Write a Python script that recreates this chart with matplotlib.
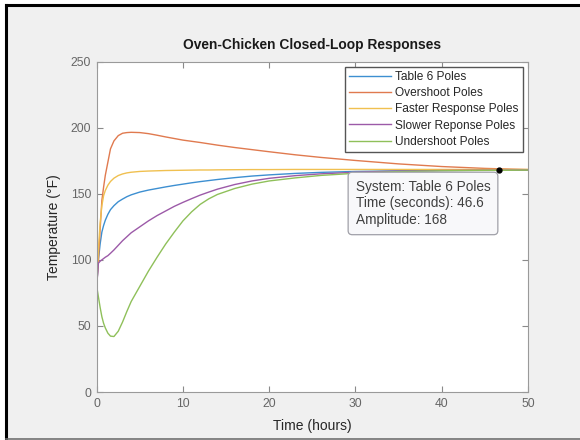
import numpy as np
import matplotlib
matplotlib.use("Agg")
import matplotlib.pyplot as plt
from matplotlib.lines import Line2D
from matplotlib.patches import Rectangle

plt.rcParams['font.family'] = ['Liberation Sans', 'DejaVu Sans']

# time (hours) and responses
t = [0, 0.2, 0.4, 0.6, 0.8, 1, 1.3, 1.6, 2, 2.5, 3, 3.5, 4, 5, 6, 7, 8, 9, 10,
     11, 12, 13, 14, 16, 18, 20, 23, 26, 30, 35, 40, 45, 50]

table6 = [80, 100, 112, 121, 126, 130, 134.5, 138, 141, 144, 146, 147.8, 149.2,
          151.3, 152.8, 154, 155.2, 156.3, 157.3, 158.3, 159.2, 160, 160.8, 162.2,
          163.4, 164.3, 165.4, 166.2, 166.9, 167.4, 167.7, 167.8, 167.9]
overshoot = [80, 100, 123, 145, 155, 164, 174, 184, 190, 194, 195.8, 196.3, 196.5,
             196.3, 195.5, 194.3, 193, 191.8, 190.6, 189.7, 188.8, 187.8, 186.8, 185,
             183.4, 181.8, 179.5, 177.5, 175.2, 172.6, 170.6, 169.2, 168.3]
faster = [80, 108, 128, 141, 148.5, 152.5, 156.5, 159.3, 161.8, 163.8, 165, 165.8,
          166.3, 166.9, 167.2, 167.4, 167.6, 167.7, 167.8, 167.9, 168, 168, 168.1,
          168.2, 168.3, 168.3, 168.4, 168.4, 168.4, 168.4, 168.4, 168.4, 168.4]
slower = [80, 97.5, 99, 100, 101, 102, 103.2, 105, 107.5, 111, 114.5, 117.5, 120.5,
          125, 129.5, 133.5, 137, 140.5, 143.5, 146.3, 149, 151.3, 153.5, 157,
          159.7, 161.7, 163.7, 165.1, 166.3, 167.2, 167.6, 167.8, 167.9]
undershoot = [80, 72, 64, 57, 52, 48.5, 44.5, 42.3, 42, 46, 53, 61, 68.5, 80, 91.5,
              102, 112, 121, 129.5, 136.3, 142, 146.2, 149.5, 154, 157.3, 159.7, 162,
              163.9, 165.5, 166.8, 167.4, 167.7, 167.9]

series_names = ["Table 6 Poles", "Overshoot Poles", "Faster Response Poles",
                "Slower Reponse Poles", "Undershoot Poles"]
series_colors = ["#3d8fd1", "#e07a4f", "#f0c050", "#9c5aa8", "#8fc05a"]

tip_t = 46.6
tip_v = 168

fig = plt.figure(figsize=(5.8, 4.4), dpi=100, facecolor="white")

# screenshot frame
fig.add_artist(Rectangle((0.0095, 0.0023), 0.9905, 0.9852, transform=fig.transFigure,
                         facecolor="#f0f0f0", edgecolor="none", zorder=-10))
fig.add_artist(Line2D([0.0095, 0.0095], [0, 0.9875], transform=fig.transFigure,
                      color="black", lw=2.2))
fig.add_artist(Line2D([0.0095, 1], [0.9875, 0.9875], transform=fig.transFigure,
                      color="black", lw=2.2))
fig.add_artist(Line2D([0.0095, 1], [0.003, 0.003], transform=fig.transFigure,
                      color="#707070", lw=1.2))

ax = fig.add_axes([0.1667, 0.109, 0.7437, 0.751])
ax.set_facecolor("white")

data = [table6, overshoot, faster, slower, undershoot]
for vals, name, col in zip(data, series_names, series_colors):
    ax.plot(t, vals, color=col, lw=1.0, label=name)

ax.plot([tip_t], [tip_v], 'o', color="black", ms=3.5, zorder=5)

ax.set_xlim(0, 50)
ax.set_ylim(0, 250)
ax.set_xticks(np.arange(0, 51, 10))
ax.set_yticks(np.arange(0, 251, 50))
ax.tick_params(direction="in", top=True, right=True, length=4, width=0.8,
               color="#8a8a8a", labelcolor="#666666", labelsize=8.7, pad=4)
for s in ax.spines.values():
    s.set_color("#9a9a9a")
    s.set_linewidth(0.8)

ax.set_title("Oven-Chicken Closed-Loop Responses", fontsize=9.9, fontweight="bold",
             color="#1a1a1a", pad=9)
ax.set_xlabel("Time (hours)", fontsize=10, color="#262626", labelpad=7)
ax.set_ylabel("Temperature (°F)", fontsize=10, color="#262626", labelpad=7)

leg = ax.legend(loc="upper right", bbox_to_anchor=(0.988, 0.984), borderaxespad=0,
                fontsize=8.6, handlelength=3.5, handletextpad=0.4, labelspacing=0.35,
                borderpad=0.35, fancybox=False, framealpha=1)
leg.get_frame().set_edgecolor("#555555")
leg.get_frame().set_linewidth(1.0)
for txt in leg.get_texts():
    txt.set_color("#262626")

ax.annotate("System: Table 6 Poles\nTime (seconds): %.1f\nAmplitude: %d" % (tip_t, tip_v),
            xy=(tip_t, tip_v), xytext=(-6, -7), textcoords="offset points",
            ha="right", va="top", multialignment="left", fontsize=9.8, color="#404040",
            linespacing=1.25,
            bbox=dict(boxstyle="round,pad=0.55,rounding_size=0.3", facecolor="#f8f8fa",
                      edgecolor="#a0a0a8", lw=0.9), zorder=6)

fig.savefig("out.png", dpi=100, facecolor=fig.get_facecolor())
